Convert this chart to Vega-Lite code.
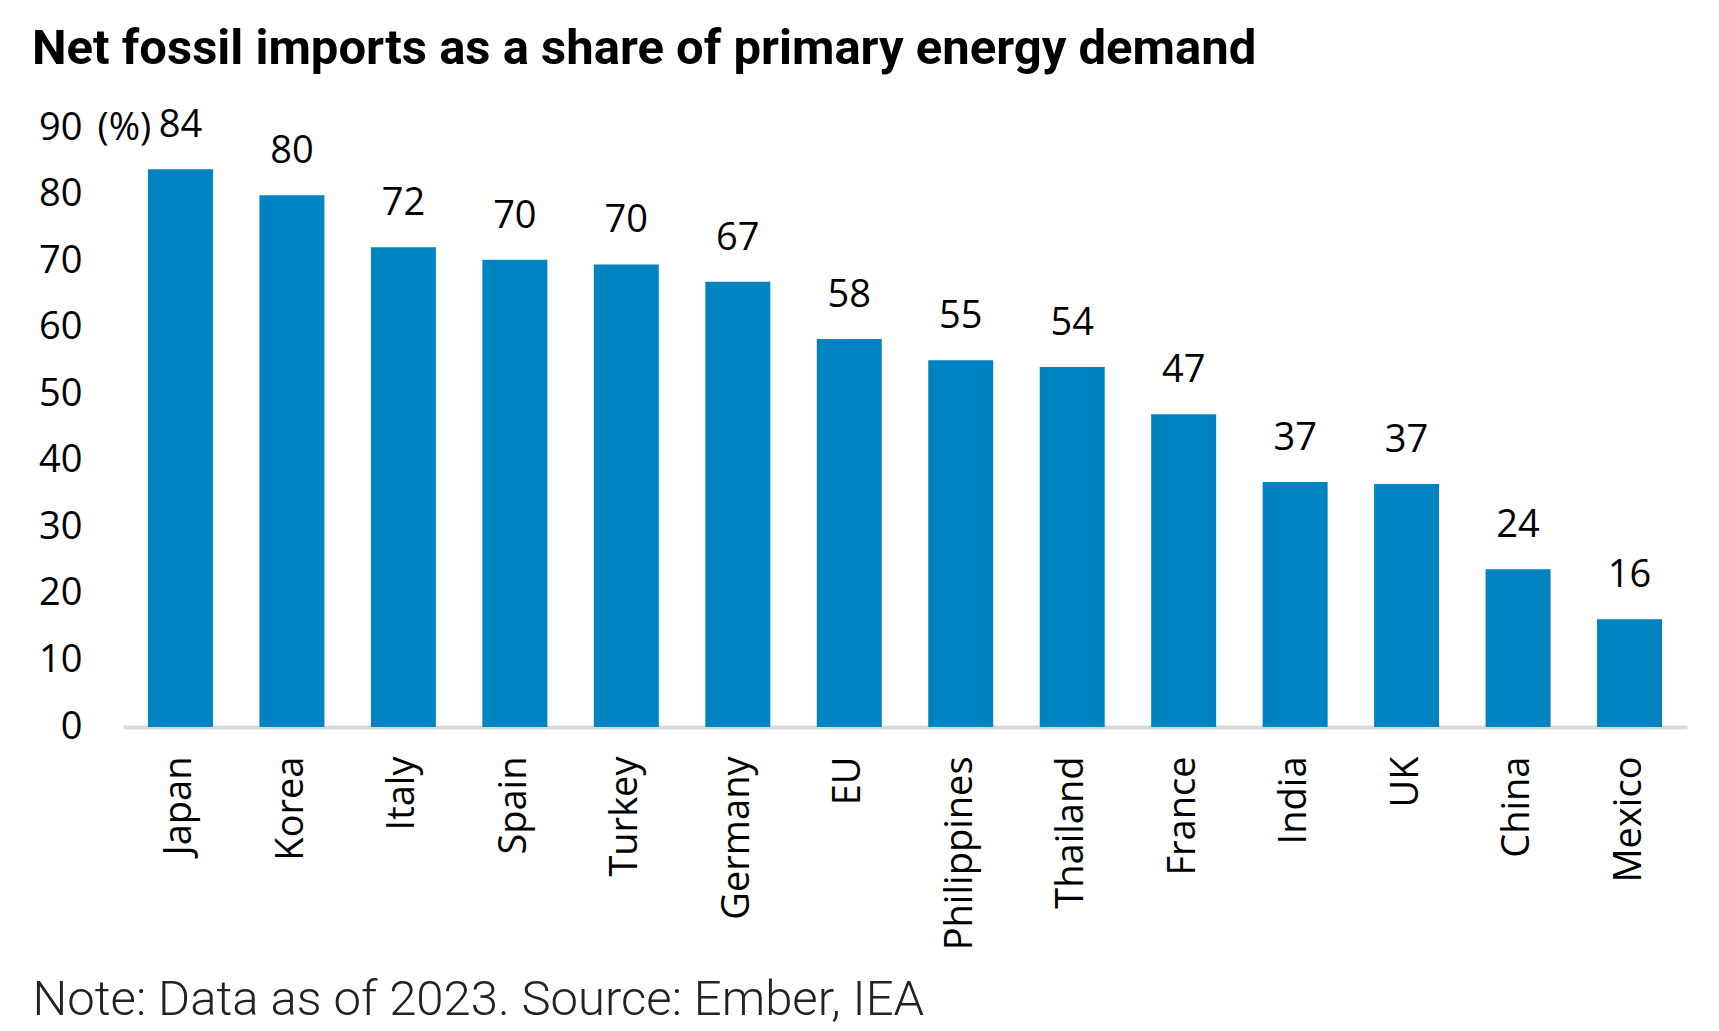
{
  "$schema": "https://vega.github.io/schema/vega-lite/v6.json",
  "autosize": "none",
  "width": 1564,
  "height": 599,
  "padding": {"left": 123, "top": 128, "right": 32, "bottom": 304},
  "background": "white",
  "title": {
    "text": "Net fossil imports as a share of primary energy demand",
    "anchor": "start",
    "frame": "group",
    "dx": -91,
    "offset": -6,
    "font": "Roboto",
    "fontSize": 49,
    "fontWeight": "bold",
    "color": "#000000",
    "baseline": "alphabetic"
  },
  "config": {
    "view": {"stroke": null},
    "axis": {"labelFont": "Open Sans", "labelColor": "#000000", "grid": false, "labelLimit": 0}
  },
  "data": {
    "values": [
      {"country": "Japan", "share": 83.8},
      {"country": "Korea", "share": 79.9},
      {"country": "Italy", "share": 72.1},
      {"country": "Spain", "share": 70.2},
      {"country": "Turkey", "share": 69.5},
      {"country": "Germany", "share": 66.9},
      {"country": "EU", "share": 58.3},
      {"country": "Philippines", "share": 55.1},
      {"country": "Thailand", "share": 54.1},
      {"country": "France", "share": 47.0},
      {"country": "India", "share": 36.8},
      {"country": "UK", "share": 36.5},
      {"country": "China", "share": 23.7},
      {"country": "Mexico", "share": 16.2}
    ]
  },
  "encoding": {
    "x": {
      "field": "country",
      "type": "nominal",
      "sort": null,
      "scale": {"paddingInner": 0.417, "paddingOuter": 0.224},
      "axis": {
        "title": "Note: Data as of 2023. Source: Ember, IEA",
        "titleFont": "Roboto",
        "titleFontWeight": 300,
        "titleFontSize": 49,
        "titleColor": "#222222",
        "titleAnchor": "start",
        "titleAlign": "left",
        "titleBaseline": "alphabetic",
        "titleX": -91,
        "titleY": 287,
        "labelAngle": -90,
        "labelFontSize": 38,
        "labelPadding": 29,
        "labelLimit": 0,
        "ticks": false,
        "tickSize": 0,
        "domainColor": "#d9d9d9",
        "domainWidth": 4
      }
    },
    "y": {
      "field": "share",
      "type": "quantitative",
      "scale": {"domain": [0, 90], "nice": false},
      "axis": {
        "title": "(%)",
        "titleFont": "Open Sans",
        "titleFontWeight": "normal",
        "titleFontSize": 38,
        "titleColor": "#000000",
        "titleAngle": 0,
        "titleAlign": "left",
        "titleBaseline": "middle",
        "titleX": -26,
        "titleY": 0,
        "values": [0, 10, 20, 30, 40, 50, 60, 70, 80, 90],
        "labelFontSize": 38,
        "labelPadding": 41,
        "ticks": false,
        "tickSize": 0,
        "domain": false
      }
    }
  },
  "layer": [
    {"mark": {"type": "bar", "color": "#0083c1"}},
    {
      "mark": {
        "type": "text",
        "font": "Open Sans",
        "fontSize": 38,
        "color": "#000000",
        "baseline": "alphabetic",
        "dy": -32
      },
      "encoding": {"text": {"field": "share", "type": "quantitative", "format": ".0f"}}
    }
  ]
}
